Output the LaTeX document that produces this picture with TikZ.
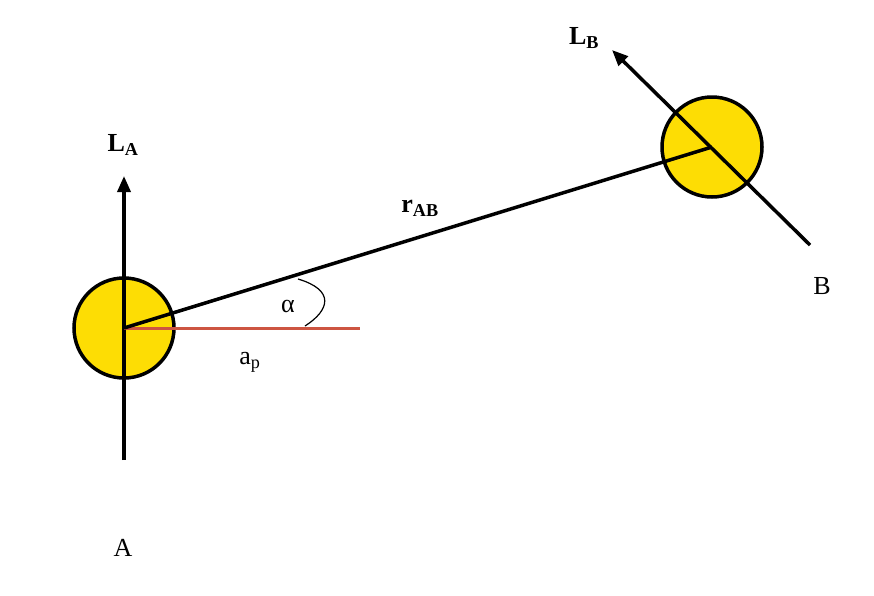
\documentclass[tikz,border=0pt]{standalone}
\usepackage{fontspec}
\setmainfont{Liberation Serif}
\usetikzlibrary{arrows.meta}
\begin{document}
\begin{tikzpicture}[x=1pt,y=-1pt,
  ball/.style={circle,draw=black,line width=3.5pt,fill=yellow!80!orange,minimum size=100pt,inner sep=0pt},
  bar/.style={line width=3.5pt},
  lab/.style={font=\fontsize{26}{30}\selectfont,inner sep=0pt}]
\useasboundingbox (0,0) rectangle (874,595);
\node[ball] (A) at (124,328) {};
\node[ball] (B) at (712,147) {};
\coordinate (Abot) at (124,460);
\coordinate (Atop) at (124,176);
\coordinate (Bbot) at (810,245);
\coordinate (Btop) at (612,50);
\coordinate (ap) at (360,328);
\draw[bar,-{Triangle[length=16pt,width=13pt]}] (Abot) -- (Atop);
\draw[bar,-{Triangle[length=16pt,width=13pt]}] (Bbot) -- (Btop);
\draw[line width=3pt,draw={rgb,255:red,205;green,85;blue,65}] (A.center) -- (ap);
\draw[bar] (A.center) -- (B.center);
\coordinate (a1) at (298,279);
\coordinate (a2) at (305,326);
\draw[line width=1.2pt] (a1) .. controls (335,290) and (330,310) .. (a2);
\node[lab,font=\bfseries\fontsize{26}{30}\selectfont] (LA) at (123,145) {L\textsubscript{A}};
\node[lab,font=\bfseries\fontsize{26}{30}\selectfont] (LB) at (584,38) {L\textsubscript{B}};
\node[lab,font=\bfseries\fontsize{26}{30}\selectfont] (rAB) at (420,208) {r\textsubscript{AB}};
\node[lab] (al) at (288,306) {α};
\node[lab] (apl) at (250,362) {a\textsubscript{p}};
\node[lab] (Al) at (123,548) {A};
\node[lab] (Bl) at (822,286) {B};
\end{tikzpicture}
\end{document}
